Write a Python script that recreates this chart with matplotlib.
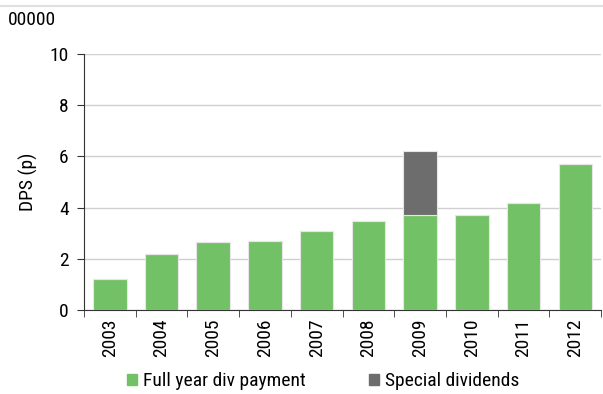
import matplotlib
matplotlib.use("Agg")
import matplotlib.pyplot as plt
from matplotlib.lines import Line2D
from matplotlib.patches import Patch
import numpy as np

plt.rcParams['font.family'] = ['Roboto Condensed', 'Liberation Sans', 'DejaVu Sans']

years = ['2003', '2004', '2005', '2006', '2007', '2008', '2009', '2010', '2011', '2012']
full_year = [1.2, 2.2, 2.64, 2.71, 3.1, 3.47, 3.73, 3.73, 4.2, 5.72]
special = [0, 0, 0, 0, 0, 0, 2.47, 0, 0, 0]

green = '#73c167'
grey = '#6d6d6d'
fs = 14

fig = plt.figure(figsize=(6.03, 3.94), dpi=100)
ax = fig.add_axes([0.139, 0.213, 0.858, 0.65])

x = np.arange(len(years))
ax.bar(x, full_year, width=0.65, color=green, edgecolor='#e6e6e6', linewidth=0.8, zorder=3)
ax.bar(x, special, width=0.65, bottom=full_year, color=grey, edgecolor='#e6e6e6', linewidth=0.8, zorder=3)

ax.set_xlim(-0.5, len(years) - 0.5)
ax.set_ylim(0, 10)
ax.set_yticks([0, 2, 4, 6, 8, 10])
ax.yaxis.grid(True, color='#d0d0d0', linewidth=1)
ax.set_axisbelow(True)

ax.set_xticks(x)
ax.set_xticklabels(years, rotation=90, fontsize=fs)
ax.tick_params(axis='x', length=0, pad=6)
ax.set_xticks(np.arange(-0.5, len(years)), minor=True)
ax.tick_params(axis='x', which='minor', length=5, color='#333333')
ax.tick_params(axis='y', labelsize=fs, length=5, color='#333333', pad=6)

for s in ['top', 'right']:
    ax.spines[s].set_visible(False)
ax.spines['left'].set_color('#333333')
ax.spines['bottom'].set_color('#333333')

ax.set_ylabel('DPS (p)', fontsize=fs, labelpad=8)

fig.text(0.013, 0.95, '00000', fontsize=fs, va='center', ha='left')
fig.add_artist(Line2D([0, 1], [0.985, 0.985], color='#e0e0e0', linewidth=1.5, transform=fig.transFigure))

handles = [Patch(color=green), Patch(color=grey)]
fig.legend(handles, ['Full year div payment', 'Special dividends'], loc='center',
           bbox_to_anchor=(0.536, 0.033), ncol=2, frameon=False, fontsize=fs,
           handlelength=0.5, handleheight=0.5, handletextpad=0.3, columnspacing=3.25)

fig.savefig('out.png', dpi=100)
